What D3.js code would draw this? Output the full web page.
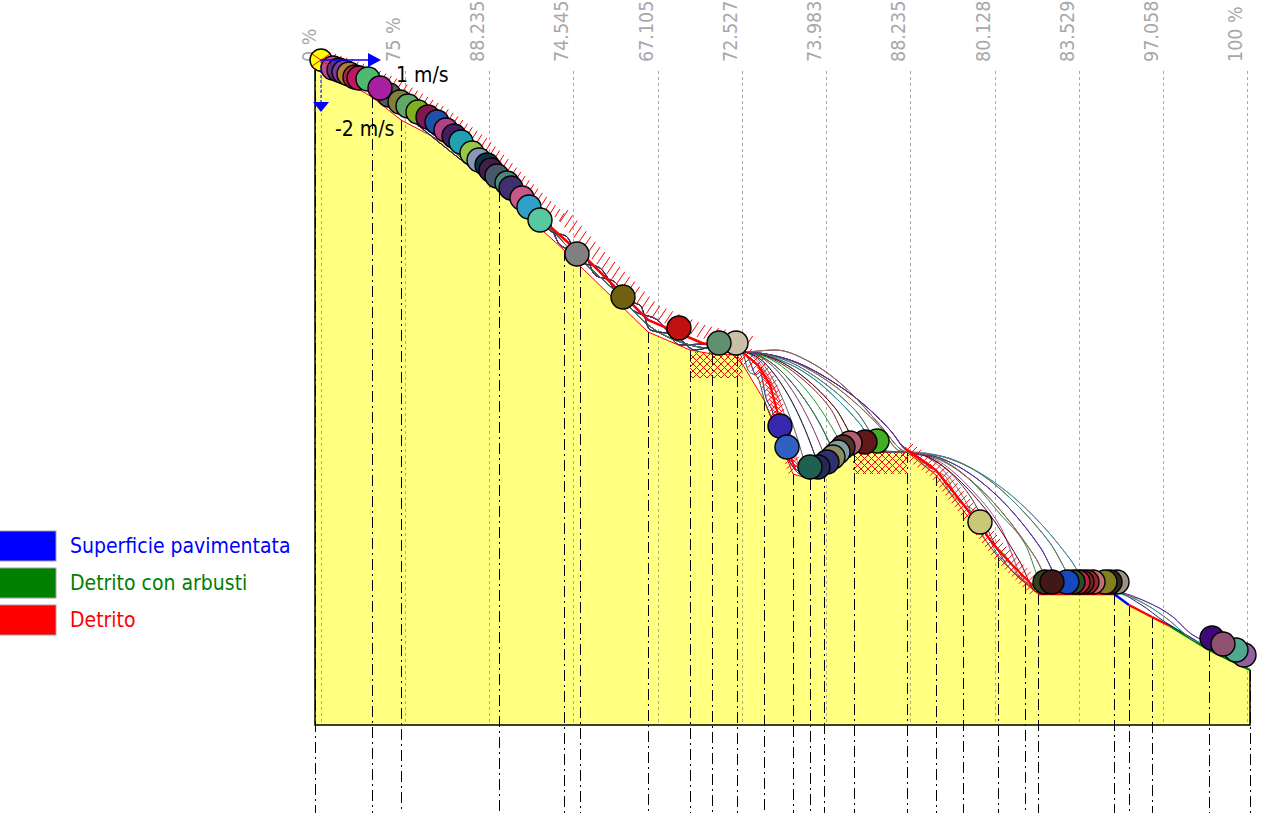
<!DOCTYPE html>
<html><head><meta charset="utf-8">
<script src="https://cdn.jsdelivr.net/npm/d3@7"></script>
<style>html,body{margin:0;padding:0;background:#fff;overflow:hidden}</style>
</head><body>
<svg id="c" width="1272" height="813"></svg>
<script>
// ---------- DATA (metres) ----------
const profile = [[0,65.5],[2.8,64.5],[5.7,62.8],[8.6,60.5],[12.8,58.3],[18.4,53.4],[24.9,47.5],[26.5,45.9],[33.3,39.3],[37.5,37.5],[39.7,37.1],[42.2,37],[44.9,32.5],[47.8,25.1],[49.5,24.6],[50.9,25.4],[53.9,27.3],[59.2,27.3],[62.1,25],[64.8,21.5],[68.3,16.8],[71,14.2],[72.3,13.1],[79.9,13.1],[81.4,12],[83.7,10.8],[85.5,9.9],[89.4,7.5],[93.5,5.5]];
const segMaterial = ["D","D","D","D","D","D","D","D","D","D","D","D","D","D","D","D","D","D","D","D","D","D","D","S","D","D","A","A"];
const sectionBreaks = [0,5.7,8.6,18.4,24.9,26.5,33.3,37.5,39.7,42.2,44.9,47.8,49.5,50.9,53.9,59.2,62.1,64.8,68.3,71,72.3,79.9,81.4,83.7,89.4,93.5];
const checkX = [0.56,8.99,17.41,25.84,34.26,42.69,51.11,59.54,67.96,76.39,84.81,93.23];
const checkLabels = ["0 %","75 %","88.235","74.545","67.105","72.527","73.983","88.235","80.128","83.529","97.058","100 %"];
const legendLabels = ["Superficie pavimentata","Detrito con arbusti","Detrito"];
const legendKeys = ["S","A","D"];
const materialColor = {S:"#0000ff", A:"#008000", D:"#ff0000"};
const hatchZoneX = [[37.5,42.7],[53.8,59.2]];
const hatchZoneY = [[34.7,37.3],[25.1,27.4]];
const startVel = {vx:1, vy:-2};

// trajectory pieces
const upperA = [[0.6,66.3],[3,65.2],[5.7,63.6],[8.6,61.4],[12.8,58.8],[18.4,53.9],[23,50.2],[24.9,48.2],[26.5,46.6],[29.7,43.7],[33.3,40],[37.5,38],[39.7,37.6],[42.3,37.3]];
const upperB = [[0.6,66.3],[5.7,63.5],[8.6,61.3],[18.4,53.8],[21.5,52],[23.7,49.3],[25.1,48.9],[26.6,46.3],[28.5,45.7],[30.7,42.5],[32.5,42],[33.5,39.5],[36,39],[38,37.5],[40.5,38],[42.3,37.3]];
const upperC = [[0.6,66.3],[5.7,63.7],[8.6,61.5],[18.4,54.1],[23.3,50.5],[24.5,48],[27,47],[28,45],[30,44.3],[31.5,41.7],[34.5,40.3],[36.5,38],[39,38.1],[41,37.3],[42.3,37.3]];
const arc1 = [[42.7,37.3],[43.3,35.5],[44.3,34.7],[45,32.3],[45.7,30.7],[46.3,29.2],[47,27.4],[48,25.5],[48.8,24.9]];
const face2 = [[42.7,37.3],[43.5,36.3],[44.1,35],[44.5,35.3],[45.1,32.7],[45.7,31.5],[46.3,29.3],[47,28],[47.5,26.3],[48.5,25.3],[49.7,24.9]];
const arc2 = [[42.7,37.3],[44.5,36.1],[46.5,32.3],[47.5,29.3],[48.5,25.7],[49.7,24.9]];
const arc2b = [[42.7,37.3],[44.5,36.4],[46.5,33.2],[48,29.4],[49.3,25]];
const arc3 = [[42.7,37.3],[44.5,36.6],[46.5,34.3],[48.5,30.7],[49.5,28.3],[50.5,25.5]];
const arc3b = [[42.7,37.3],[45,36.5],[47.5,33.8],[49.5,30.3],[51.3,26.1]];
const arc4 = [[42.7,37.3],[44.5,36.9],[46.5,35.5],[48.5,33.2],[50.5,30.1],[52.3,26.3]];
const arc4b = [[42.7,37.3],[45.5,36.6],[48.5,34.2],[51,30.9],[53.2,27]];
const arc5 = [[42.7,37.3],[45.5,36.7],[48.5,34.8],[51.5,31.7],[54.1,27.4]];
const arc5b = [[42.7,37.3],[46,36.6],[49,34.7],[52,31.7],[55.1,27.3]];
const arc6 = [[42.7,37.3],[46.5,36.5],[49.5,34.9],[52.5,32.3],[54.5,30.1],[56.5,27.4]];
const arc6b = [[42.7,37.3],[47,36.5],[50.5,34.5],[54,31.5],[57.5,27.3]];
const arc7 = [[42.7,37.3],[46.5,36.8],[50.5,34.9],[54.5,31.8],[56.5,29.8],[58.5,27.4]];
const arc7b = [[42.7,37.3],[46,37.5],[49.5,36.3],[53.5,33.3],[56.5,30],[59,27.35]];
const arc8 = [[42.7,37.3],[47.5,36.5],[51.5,34.5],[55.5,31.5],[57.5,29.5],[59.4,27.3]];
const s2a = [[59.4,27.3],[61.5,26.6],[64.5,23.3],[67.2,18.3],[71,14.4],[72.5,13.3]];
const s2b = [[59.4,27.3],[62.5,26.1],[65.5,22.9],[69.2,16],[71.5,13.9],[73.5,13.3]];
const s2c = [[59.4,27.3],[62.5,26.3],[65.5,23.7],[68.5,19.9],[71.2,14.2],[74.5,13.3]];
const s2d = [[59.4,27.3],[62.5,26.5],[65.5,24.5],[68.5,21.1],[71,18.1],[73.2,13.3],[76,13.3]];
const s2e = [[59.4,27.3],[62.5,26.7],[66.5,24.4],[69.5,21.6],[72.5,17.8],[75.2,13.5],[78,13.3]];
const s2f = [[59.4,27.3],[62.5,26.9],[66.5,25.2],[70.5,22.2],[73.5,19.1],[75.5,16.6],[77.5,13.8],[79.9,13.3]];
const s2g = [[59.4,27.3],[61,25.9],[62.1,25.5],[63.5,23.3],[64.8,22],[66.5,20.5],[68.3,17],[69.7,16],[71,14.7],[72.5,13.5]];
const s2h = [[59.4,27.3],[61.5,25.5],[63,24.9],[64.3,22.5],[66,21.3],[67.5,18.5],[69,17],[70.5,14.8],[72,13.5]];
const s2i = [[59.4,27.3],[62.5,26.6],[66,24.1],[69.5,20.3],[72,16.8],[74.2,13.3],[77,13.3]];
const s2j = [[59.4,27.3],[63,26.8],[67,24.8],[70.5,21.7],[73.5,18.2],[76.5,13.7],[79,13.3]];
const s2k = [[59.4,27.3],[62,26.4],[65,23.9],[68,20.3],[70.5,16.3],[72.2,13.3],[75,13.3]];
const s3a = [[79.9,13.3],[83.2,12.3],[85.8,10.8],[87.5,9.2],[88.7,8.5],[90,8]];
const s3b = [[79.9,13.3],[83,12.1],[85.5,10.4],[87.5,8.7],[89,8]];
const s3c = [[79.9,13.3],[82.5,12.1],[85,10.3],[87,9.1],[88.5,8.2]];

const trajectories = [
  {color:"#8e60a8", parts:[upperB, arc8, s2f, s3a]},
  {color:"#8b6914", parts:[upperA, arc8, s2j, s3b]},
  {color:"#1a1a80", parts:[upperC, arc7b, s2e, s3c]},
  {color:"#3a9a9a", parts:[upperA, arc7, s2f, s3b]},
  {color:"#2e8b2e", parts:[upperB, arc6, s2d]},
  {color:"#9050a0", parts:[upperC, arc6b, s2c]},
  {color:"#7a2030", parts:[upperA, arc5, s2b]},
  {color:"#708090", parts:[upperB, arc5b, s2a]},
  {color:"#2020c0", parts:[upperC, arc4]},
  {color:"#808020", parts:[upperA, arc3]},
  {color:"#b05080", parts:[upperB, arc2]},
  {color:"#206020", parts:[upperC, arc1]},
  {color:"#506070", parts:[upperA, face2]},
  {color:"#2090a0", parts:[upperB, arc6, s2g]},
  {color:"#a06030", parts:[upperC, arc7, s2h]},
  {color:"#402080", parts:[upperA, arc8, s2i]},
  {color:"#20a020", parts:[upperB, arc4b]},
  {color:"#803060", parts:[upperC, arc3b]},
  {color:"#606060", parts:[upperA, arc2b]},
  {color:"#4040b0", parts:[upperB, face2]},
  {color:"#600000", parts:[upperC, arc5b, s2k]},
  {color:"#408080", parts:[upperA, arc6b, s2j]},
  {color:"#a07050", parts:[upperB, arc7b, s2i]},
  {color:"#6030a0", parts:[upperC, arc8, s2e, s3a]},
  {color:"#308030", parts:[upperA, arc4]},
  {color:"#202060", parts:[upperB, arc3]}
];

// envelope / hatch lines
const envUpper = [[1,66.5],[4.5,65.3],[7.8,63.8],[12.8,60.8],[16.8,57.8],[18.8,55.8],[20.8,53.8],[23,51.7],[24.5,50.3]];
const envLower = [[24.5,50.3],[27.5,46.8],[33.5,40.8],[38.2,38.8],[43,37.7]];
const envThick = [[23,50.3],[25.7,47.9],[27.5,46.3],[33.3,40.5],[38.7,38.2],[42.7,37.3]];
const crossFace1 = [[42.7,37.3],[44.3,36],[45.5,34],[47,28.5],[48,25.6]];
const crossFace2 = [[59.2,27.5],[62.1,25.5],[64.8,22.1],[68.3,17.5],[71,14.7],[72.3,13.5]];

// boulders: [x, y, colour]
const boulders = [
 [0.6,66.5,"#ffff00"],[1.8,65.7,"#c04890"],[2.4,65.5,"#603080"],[2.9,65.3,"#7a3aa0"],[3.4,65.1,"#b08030"],
 [4.0,64.8,"#a03050"],[4.4,64.7,"#c01860"],[5.3,64.6,"#50b870"],[7.4,63.0,"#505860"],[6.5,63.7,"#a820a0"],
 [8.5,62.3,"#80803c"],[9.3,61.9,"#60a868"],[10.3,61.3,"#80b020"],[11.3,60.8,"#801850"],[12.2,60.3,"#2050a8"],
 [13.1,59.5,"#b04088"],[13.9,58.9,"#402060"],[14.6,58.3,"#20a0b0"],[15.7,57.2,"#98c848"],[16.4,56.5,"#8898b8"],
 [17.2,56.0,"#103048"],[17.6,55.5,"#402048"],[18.2,54.9,"#485868"],[19.2,54.2,"#508878"],[19.6,53.7,"#403070"],
 [20.7,52.7,"#c85888"],[21.4,51.8,"#30a0c8"],[22.5,50.5,"#58c8a0"],[26.2,47.1,"#808080"],[30.8,42.8,"#706010"],
 [36.4,39.7,"#c01010"],[42.1,38.2,"#c8c0a8"],[40.4,38.2,"#609070"],[46.5,29.9,"#3828b0"],[47.2,27.8,"#3060c0"],
 [56.2,28.4,"#40b020"],[55.0,28.3,"#601818"],[53.5,28.2,"#b06070"],[52.8,27.8,"#503028"],[52.3,27.3,"#80a0a0"],
 [51.8,26.8,"#8c8c60"],[51.2,26.3,"#303070"],[50.3,25.8,"#282858"],[49.5,25.8,"#206050"],
 [66.5,20.3,"#c8c878"],
 [80.2,14.3,"#a09080"],[79.5,14.3,"#302820"],[79.0,14.3,"#808020"],[77.8,14.3,"#c07070"],[77.2,14.3,"#a02030"],
 [76.7,14.3,"#603020"],[76.3,14.3,"#c02040"],[75.8,14.3,"#285028"],[75.2,14.3,"#1848c0"],[73.0,14.3,"#304020"],[73.7,14.3,"#401818"],
 [92.9,7.0,"#9060a0"],[92.1,7.5,"#50a890"],[89.7,8.7,"#400878"],[90.8,8.1,"#905070"]
];
const boulderR = 1.2;

// ---------- DRAW ----------
const W = 1272, H = 813;
const X = d3.scaleLinear().domain([0,93.5]).range([315,1250]);
const Y = d3.scaleLinear().domain([0,65.5]).range([725,70]);
const FONT = "'DejaVu Sans Condensed','Liberation Sans',sans-serif";
const svg = d3.select("#c");
const defs = svg.append("defs");
const pat = defs.append("pattern").attr("id","xh").attr("patternUnits","userSpaceOnUse").attr("width",7).attr("height",7);
pat.append("path").attr("d","M0,0L7,7M7,0L0,7").attr("stroke","#ff0000").attr("stroke-width",1);

function surfaceAt(x){
  for(let i=0;i<profile.length-1;i++){
    const a=profile[i], b=profile[i+1];
    if(x>=a[0]-1e-9 && x<=b[0]+1e-9){ return a[1]+(b[1]-a[1])*(x-a[0])/(b[0]-a[0]); }
  }
  return profile[profile.length-1][1];
}
const px = v => Math.round(v)+0.5;

// terrain
svg.append("path").datum(profile)
  .attr("d", d3.area().x(d=>X(d[0])).y0(Y(0)).y1(d=>Y(d[1])))
  .attr("fill","#ffff80");

// crosshatched zones
hatchZoneX.forEach((zx,i)=>{
  svg.append("rect").attr("x",X(zx[0])).attr("width",X(zx[1])-X(zx[0]))
    .attr("y",Y(hatchZoneY[i][1])).attr("height",Y(hatchZoneY[i][0])-Y(hatchZoneY[i][1]))
    .attr("fill","url(#xh)");
});

// gray check-section lines and labels
const gl = svg.append("g");
checkX.forEach((cx,i)=>{
  gl.append("line").attr("x1",px(X(cx))).attr("x2",px(X(cx))).attr("y1",Y(65.4)).attr("y2",Y(0))
    .attr("stroke","#a8a8a8").attr("stroke-width",1).attr("stroke-dasharray","3,3").attr("shape-rendering","crispEdges");
  gl.append("text").attr("transform",`translate(${X(cx)-5},62) rotate(-90)`)
    .attr("text-anchor","start").attr("fill","#a8a8a8")
    .style("font-family",FONT).style("font-size","19.5px").text(checkLabels[i]);
});

// dash-dot profile breaks
sectionBreaks.forEach(bx=>{
  svg.append("line").attr("x1",px(X(bx))).attr("x2",px(X(bx))).attr("y1",Y(surfaceAt(bx))).attr("y2",H)
    .attr("stroke","#000").attr("stroke-width",1).attr("stroke-dasharray","11,4,2,4").attr("shape-rendering","crispEdges");
});

// terrain outline
const last = profile[profile.length-1];
svg.append("path").attr("d",`M${X(0)},${Y(profile[0][1])}L${X(0)},${Y(0)}L${X(last[0])},${Y(0)}L${X(last[0])},${Y(last[1])}`)
  .attr("fill","none").attr("stroke","#000").attr("stroke-width",1.5);
for(let i=0;i<profile.length-1;i++){
  svg.append("line").attr("x1",X(profile[i][0])).attr("y1",Y(profile[i][1]))
    .attr("x2",X(profile[i+1][0])).attr("y2",Y(profile[i+1][1]))
    .attr("stroke",materialColor[segMaterial[i]]).attr("stroke-width",i>=22?2.5:1);
}

// trajectories
const line = d3.line().x(d=>X(d[0])).y(d=>Y(d[1])).curve(d3.curveMonotoneX);
const tg = svg.append("g");
trajectories.forEach(t=>{
  const pts=[];
  t.parts.forEach(p=>p.forEach(q=>{ if(!pts.length || q[0]>pts[pts.length-1][0]+1e-6) pts.push(q); }));
  tg.append("path").attr("d",line(pts)).attr("fill","none").attr("stroke",t.color).attr("stroke-width",1);
});

// hatch ticks
function along(pts, step, fn){
  const pp = pts.map(p=>[X(p[0]),Y(p[1])]);
  let carry=0;
  for(let i=0;i<pp.length-1;i++){
    const a=pp[i], b=pp[i+1];
    const L=Math.hypot(b[0]-a[0],b[1]-a[1]);
    let t=carry;
    while(t<=L){ fn(a[0]+(b[0]-a[0])*t/L, a[1]+(b[1]-a[1])*t/L); t+=step; }
    carry=t-L;
  }
}
const hg = svg.append("g").attr("stroke","#ff0000").attr("stroke-width",1);
along(envUpper, 6, (x,y)=>hg.append("line").attr("x1",x).attr("y1",y).attr("x2",x+5).attr("y2",y-8));
along(envLower, 7, (x,y)=>hg.append("line").attr("x1",x).attr("y1",y).attr("x2",x+8).attr("y2",y-12));
svg.append("path").attr("d",d3.line().x(d=>X(d[0])).y(d=>Y(d[1]))(envThick))
  .attr("fill","none").attr("stroke","#ff0000").attr("stroke-width",2.5);
[crossFace1, crossFace2].forEach(cf=>{
  svg.append("path").attr("d",d3.line().x(d=>X(d[0])).y(d=>Y(d[1]))(cf))
    .attr("fill","none").attr("stroke","#ff0000").attr("stroke-width",2);
  along(cf, 5, (x,y)=>{
    hg.append("line").attr("x1",x-6).attr("y1",y-6).attr("x2",x+6).attr("y2",y+6);
    hg.append("line").attr("x1",x-6).attr("y1",y+6).attr("x2",x+6).attr("y2",y-6);
  });
});

// boulders
const rpx = X(boulderR)-X(0);
svg.append("g").selectAll("circle").data(boulders).join("circle")
  .attr("cx",d=>X(d[0])).attr("cy",d=>Y(d[1])).attr("r",(d,i)=>i===0?rpx-1:rpx)
  .attr("fill",d=>d[2]).attr("stroke","#000").attr("stroke-width",1.4);
// cross on start
const s0 = boulders[0];
svg.append("path").attr("d",`M${X(s0[0])-9},${Y(s0[1])-6}L${X(s0[0])+9},${Y(s0[1])+6}M${X(s0[0])-9},${Y(s0[1])+6}L${X(s0[0])+9},${Y(s0[1])-6}`)
  .attr("stroke","#ff0000").attr("stroke-width",1);

// velocity arrows
const ox=X(s0[0]), oy=Y(s0[1]);
const hx = ox + 60*startVel.vx, vy = oy - 26*startVel.vy;
svg.append("line").attr("x1",ox).attr("y1",oy).attr("x2",hx-10).attr("y2",oy).attr("stroke","#0000ff").attr("stroke-width",1.5);
svg.append("path").attr("d",`M${hx},${oy}L${hx-13},${oy-7}L${hx-13},${oy+7}Z`).attr("fill","#0000ff");
svg.append("line").attr("x1",ox).attr("y1",oy).attr("x2",ox).attr("y2",vy-8).attr("stroke","#0000ff").attr("stroke-width",1).attr("stroke-dasharray","3,2");
svg.append("path").attr("d",`M${ox},${vy}L${ox-8},${vy-10}L${ox+8},${vy-10}Z`).attr("fill","#0000ff");
svg.append("text").attr("x",hx+15).attr("y",oy+22).style("font-family",FONT).style("font-size","21px").attr("fill","#000").text(`${startVel.vx} m/s`);
svg.append("text").attr("x",ox+14).attr("y",vy+24).style("font-family",FONT).style("font-size","21px").attr("fill","#000").text(`${startVel.vy} m/s`);

// legend
legendLabels.forEach((lab,i)=>{
  const c = materialColor[legendKeys[i]];
  svg.append("rect").attr("x",-1).attr("y",531+37*i).attr("width",57).attr("height",30)
    .attr("fill",c).attr("stroke","#a0a0a0").attr("stroke-width",1);
  svg.append("text").attr("x",70).attr("y",553+37*i).attr("fill",c)
    .style("font-family",FONT).style("font-size","21px").text(lab);
});
</script>
</body></html>
